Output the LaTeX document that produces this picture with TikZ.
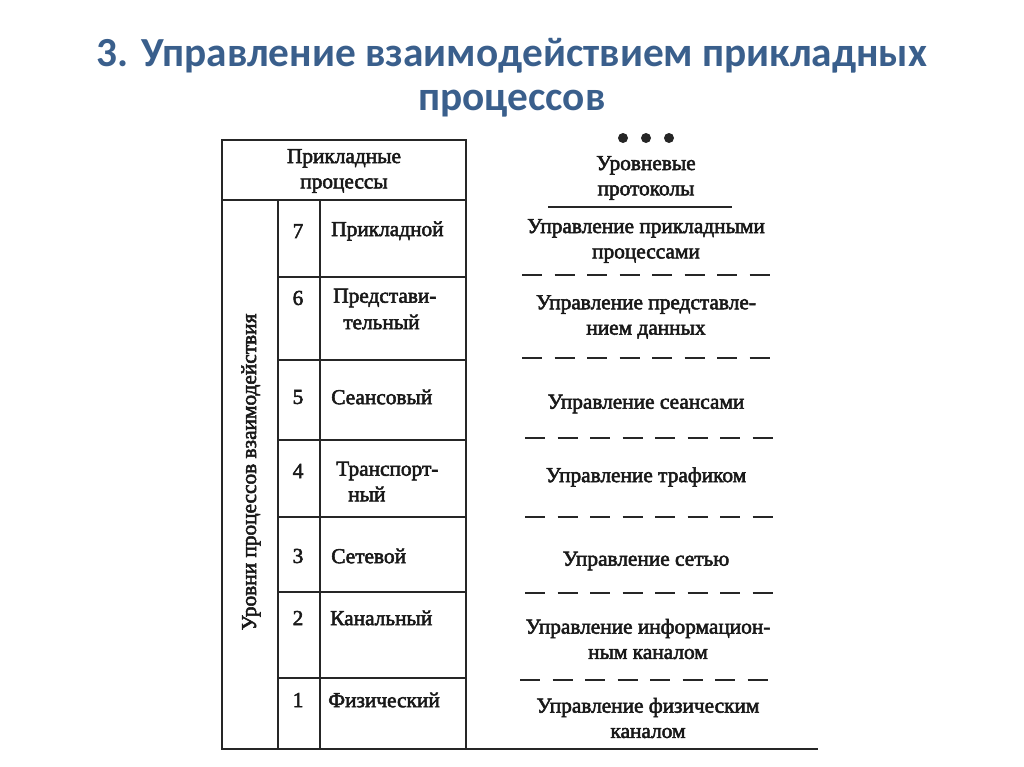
\documentclass[tikz,border=0pt]{standalone}
\usepackage{fontspec}
\setmainfont{Liberation Serif}[FakeBold=2.5]
\newfontfamily\titlefont{Carlito}
\definecolor{titleblue}{HTML}{3A5F8C}
\tikzset{
  tline/.style={line width=1.8pt, black!85},
  dline/.style={line width=1.6pt, black!85, dash pattern=on 15pt off 9.4pt},
  cell/.style={font=\fontsize{16}{19}\selectfont, inner sep=0pt, text=black!90},
  proto/.style={font=\fontsize{16}{19}\selectfont, inner sep=0pt, align=center, text=black!90},
  ttl/.style={font=\titlefont\bfseries\fontsize{31}{35}\selectfont, text=titleblue, inner sep=0pt}
}
\begin{document}
\begin{tikzpicture}[x=0.75pt,y=-0.75pt]
\useasboundingbox (0,0) rectangle (1024,767);
% title
\node[ttl] (t1) at (512,56) {3. Управление взаимодействием прикладных};
\node[ttl] (t2) at (512,104) {процессов};
% table lines
\draw[tline] (222,140) rectangle (466,200);
\draw[tline] (222,200) -- (222,750);
\draw[tline] (278,200) -- (278,748);
\draw[tline] (320,200) -- (320,748);
\draw[tline] (466,200) -- (466,748);
\foreach \yy in {277,360,440,517,592,678} \draw[tline] (278,\yy) -- (466,\yy);
\draw[tline] (222,749) -- (818,749);
% header
\node[cell, align=center] (hdr) at (344,171) {Прикладные\\процессы};
\node[cell, rotate=90] (vlab) at (251,472) {Уровни процессов взаимодействия};
% numbers
\node[cell] (n7) at (298,231) {7};
\node[cell] (n6) at (298,298) {6};
\node[cell] (n5) at (298,397) {5};
\node[cell] (n4) at (298,471) {4};
\node[cell] (n3) at (298,556) {3};
\node[cell] (n2) at (298,618) {2};
\node[cell] (n1) at (298,700) {1};
% names
\node[cell, anchor=west] (l7) at (331,231) {Прикладной};
\node[cell, anchor=west] (l6a) at (333,298) {Представи-};
\node[cell, anchor=west] (l6b) at (343,322) {тельный};
\node[cell, anchor=west] (l5) at (331,397) {Сеансовый};
\node[cell, anchor=west] (l4a) at (336,471) {Транспорт-};
\node[cell, anchor=west] (l4b) at (348,494) {ный};
\node[cell, anchor=west] (l3) at (331,556) {Сетевой};
\node[cell, anchor=west] (l2) at (330,618) {Канальный};
\node[cell, anchor=west] (l1) at (328,700) {Физический};
% right column
\foreach \xx [count=\i] in {623,646,669} \fill[black!85] (\xx,138) circle (5);
\node[proto] (ph) at (646,178) {Уровневые\\протоколы};
\draw[line width=1.8pt, black!85] (548,207) -- (732,207);
\node[proto] (p7) at (646,241) {Управление прикладными\\процессами};
\draw[dline] (522,275) -- (770,275);
\node[proto] (p6) at (646,317) {Управление представле-\\нием данных};
\draw[dline] (522,358) -- (770,358);
\node[proto] (p5) at (646,404) {Управление сеансами};
\draw[dline] (525,438) -- (773,438);
\node[proto] (p4) at (646,477) {Управление трафиком};
\draw[dline] (525,517) -- (773,517);
\node[proto] (p3) at (646,561) {Управление сетью};
\draw[dline] (525,593) -- (773,593);
\node[proto] (p2) at (648,639) {Управление информацион-\\ным каналом};
\draw[dline] (520,680) -- (768,680);
\node[proto] (p1) at (648,718) {Управление физическим\\каналом};
\end{tikzpicture}
\end{document}
